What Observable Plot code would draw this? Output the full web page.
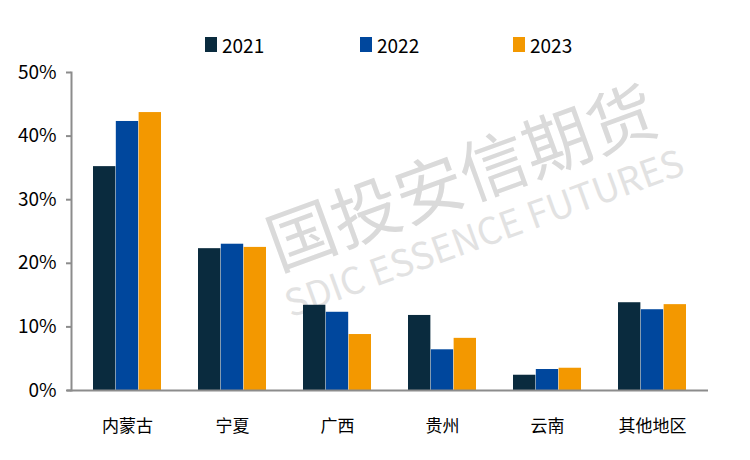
<!DOCTYPE html>
<html><head><meta charset="utf-8">
<script src="https://cdn.jsdelivr.net/npm/d3@7"></script>
<script src="https://cdn.jsdelivr.net/npm/@observablehq/plot@0.6"></script>
<style>
body{margin:0;background:#fff;font-family:"Noto Sans CJK SC","Noto Sans",sans-serif;}
#wrap{position:relative;width:750px;height:460px;}
#legend{position:relative;height:40px;}
.li{position:absolute;top:31px;display:flex;align-items:center;font-size:19px;color:#000;z-index:2;}
.sw{width:12px;height:15px;margin-right:5px;}
</style></head>
<body><div id="wrap"><div id="legend"></div><div id="chart"></div></div>
<script>
const regions = ["内蒙古","宁夏","广西","贵州","云南","其他地区"];
const years = ["2021","2022","2023"];
const v2021 = [0.352,0.223,0.134,0.118,0.024,0.138];
const v2022 = [0.423,0.230,0.123,0.064,0.033,0.127];
const v2023 = [0.437,0.225,0.088,0.082,0.035,0.135];
const yTicks = [0,0.1,0.2,0.3,0.4,0.5];
const colors = ["#0a2b3e","#00479d","#f39800"];

const series = [v2021, v2022, v2023];
const data = years.map((y,i)=>regions.map((r,j)=>({region:r, year:y, value:series[i][j]})));

// legend
const legend = document.getElementById("legend");
const lx = [205,360,513];
years.forEach((y,i)=>{
  const d = document.createElement("div");
  d.className="li"; d.style.left=lx[i]+"px";
  d.innerHTML=`<div class="sw" style="background:${colors[i]}"></div><span>${y}</span>`;
  legend.appendChild(d);
});

const step = 637/(6-0.35+0.4), bw = step*0.65, third = bw/3;
const insets = [[0,2*third],[third,third],[2*third,0]];

const plot = Plot.plot({
  width:750, height:420,
  marginLeft:71, marginRight:42, marginTop:32, marginBottom:70,
  style:{fontFamily:'"Noto Sans CJK SC","Noto Sans",sans-serif', background:"transparent", color:"#000"},
  x:{domain:regions, paddingInner:0.35, paddingOuter:0.2, label:null},
  y:{domain:[0,0.5], label:null},
  marks:[
    Plot.text(["国投安信期货"],{frameAnchor:"top-left", dx:391, dy:108, rotate:-20, fontSize:68, fill:"#dadada", textAnchor:"middle", lineAnchor:"middle", letterSpacing:"3px"}),
    Plot.text(["SDIC ESSENCE FUTURES"],{frameAnchor:"top-left", dx:413, dy:162, rotate:-20, fontSize:37, fill:"#e2e2e2", textAnchor:"middle", lineAnchor:"middle"}),
    ...data.map((d,i)=>Plot.barY(d,{x:"region", y:"value", fill:colors[i], insetLeft:insets[i][0], insetRight:insets[i][1]})),
    Plot.ruleY([0],{stroke:"#8c8c8c", strokeWidth:2, insetLeft:-4}),
    Plot.frame({anchor:"left", stroke:"#8c8c8c", strokeWidth:2}),
    Plot.axisY({ticks:yTicks, tickFormat:d3.format(".0%"), tickSize:5, stroke:"#8c8c8c", strokeWidth:2, fontSize:19, tickPadding:10, fill:"#000"}),
    Plot.axisX({tickSize:0, fontSize:17, tickPadding:29, fill:"#000"})
  ]
});
document.getElementById("chart").appendChild(plot);
</script></body></html>
